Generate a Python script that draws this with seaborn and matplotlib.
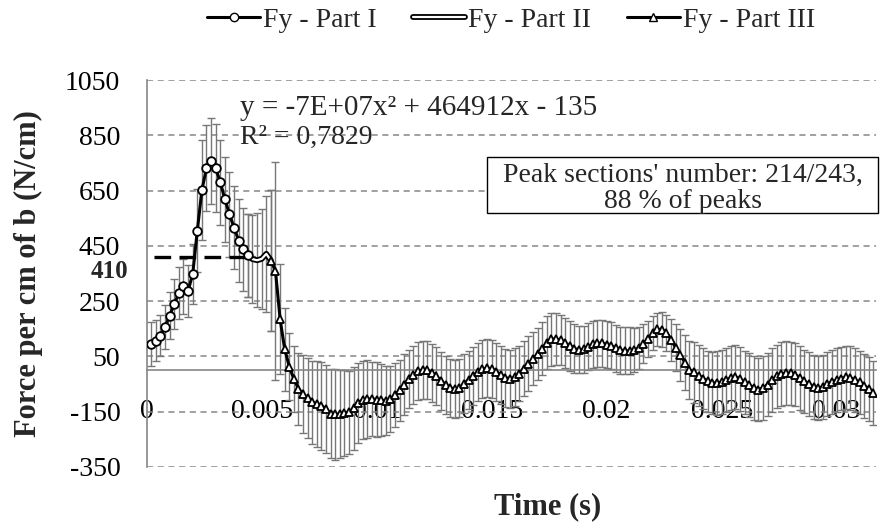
import numpy as np
import pandas as pd
import matplotlib
matplotlib.use("Agg")
import matplotlib.pyplot as plt
import seaborn as sns
from matplotlib.lines import Line2D
from matplotlib.patches import Rectangle

# ---------------- data ----------------
step = 0.0002

p1_start = 0.0002
p1_force = [96, 107, 125, 156, 197, 240, 279, 303, 287, 348,
            504, 652, 731, 757, 731, 680, 619, 564, 516, 469,
            438, 416]
p1_err = [80, 75, 75, 80, 85, 90, 95, 100, 95, 110,
          150, 180, 155, 157, 160, 153, 154, 154, 150, 150,
          150, 150]

p2_start = 0.0044
p2_force = [416, 402, 398, 403, 421, 397]
p2_err = [150, 160, 170, 180, 210, 255]

p3_start = 0.0054
p3_force = [397, 359, 185, 76, 13, -32, -67, -86, -101, -115,
            -122, -129, -140, -157, -159, -158, -155, -152, -138, -118,
            -107, -104, -104, -106, -108, -110, -104, -90, -72, -52,
            -33, -16, -4, 2, 0, -10, -22, -38, -52, -64,
            -68, -64, -48, -34, -20, -5, 4, 8, 5, -5,
            -16, -27, -31, -26, -12, 6, 24, 42, 58, 78,
            100, 112, 113, 109, 98, 87, 78, 74, 76, 85,
            94, 98, 97, 93, 88, 80, 73, 70, 70, 72,
            80, 96, 114, 134, 148, 147, 136, 110, 82, 56,
            28, 2, -8, -20, -30, -40, -46, -47, -42, -36,
            -28, -24, -32, -44, -54, -64, -70, -65, -52, -36,
            -22, -14, -10, -11, -16, -28, -40, -50, -60, -64,
            -60, -50, -42, -35, -30, -26, -28, -35, -44, -56,
            -68, -83]
p3_err = [255, 395, 200, 150, 120, 120, 130, 140, 145, 150,
          155, 160, 160, 160, 165, 160, 155, 150, 150, 145,
          140, 140, 135, 135, 130, 125, 120, 115, 110, 110,
          105, 105, 105, 105, 105, 105, 105, 105, 105, 105,
          105, 105, 105, 105, 105, 105, 105, 105, 105, 105,
          105, 105, 105, 105, 100, 100, 100, 95, 95, 95,
          95, 95, 95, 90, 90, 90, 88, 85, 85, 85,
          85, 85, 85, 85, 85, 85, 85, 85, 85, 80,
          75, 70, 65, 62, 60, 62, 65, 75, 85, 95,
          100, 105, 110, 110, 110, 110, 112, 115, 115, 115,
          115, 115, 115, 115, 115, 115, 115, 115, 115, 115,
          115, 115, 115, 115, 115, 115, 115, 115, 115, 115,
          115, 115, 115, 115, 115, 115, 115, 115, 115, 115,
          115, 115]

threshold = 410
threshold_x = [0.0003, 0.0047]

series_labels = ["Fy - Part I", "Fy - Part II", "Fy - Part III"]
x_ticks = [0, 0.005, 0.01, 0.015, 0.02, 0.025, 0.03]
x_tick_labels = ["0", "0.005", "0.01", "0.015", "0.02", "0.025", "0.03"]
y_ticks = [-350, -150, 50, 250, 450, 650, 850, 1050]
y_tick_labels = ["-350", "-150", "50", "250", "450", "650", "850", "1050"]

equation = "y = -7E+07x\u00b2 + 464912x - 135"
r2_text = "R\u00b2 = 0,7829"
box_text = "Peak sections' number: 214/243,\n88 % of peaks"


def frame(start, force, err, part):
    t = np.round(start + step * np.arange(len(force)), 5)
    return pd.DataFrame({"t": t, "F": force, "err": err, "part": part})


d1 = frame(p1_start, p1_force, p1_err, series_labels[0])
d2 = frame(p2_start, p2_force, p2_err, series_labels[1])
d3 = frame(p3_start, p3_force, p3_err, series_labels[2])

# ---------------- style ----------------
sns.set_theme(style="white")
plt.rcParams['font.family'] = ['Liberation Serif', 'DejaVu Serif']
GRAY = "#868686"
EB = "#777777"

fig = plt.figure(figsize=(8.82, 5.28), dpi=100)
L, R, T, B = 146.7, 876.0, 80.0, 467.0
ax = fig.add_axes([L / 882, 1 - B / 528, (R - L) / 882, (B - T) / 528])

ax.set_xlim(0, 0.03171)
ax.set_ylim(-350, 1050)

ax.set_yticks(y_ticks)
ax.set_yticklabels(y_tick_labels)
ax.set_xticks(x_ticks)
ax.set_xticklabels(x_tick_labels)
ax.yaxis.grid(True, linestyle=(0, (4, 3)), color=GRAY, lw=1.1)
ax.xaxis.grid(False)

# error bars
for d in (d1, d2, d3):
    ax.errorbar(d["t"], d["F"], yerr=d["err"], fmt="none", ecolor=EB,
                elinewidth=1.0, capsize=2.8, capthick=1.0, zorder=2)

# dashed threshold line
ax.plot(threshold_x, [threshold, threshold], color="black", lw=2.4,
        dashes=(5, 2.5), zorder=3)

# Part II double line
sns.lineplot(data=d2, x="t", y="F", ax=ax, color="black", lw=4.2,
             sort=False, estimator=None, zorder=4)
sns.lineplot(data=d2, x="t", y="F", ax=ax, color="white", lw=1.6,
             sort=False, estimator=None, zorder=4.1)
# Part I circles
sns.lineplot(data=d1, x="t", y="F", ax=ax, color="black", lw=2.2,
             marker="o", markersize=6.2, markerfacecolor="white",
             markeredgecolor="black", markeredgewidth=1.3,
             sort=False, estimator=None, zorder=5)
# Part III triangles
sns.lineplot(data=d3, x="t", y="F", ax=ax, color="black", lw=2.2,
             marker="^", markersize=6.0, markerfacecolor="white",
             markeredgecolor="black", markeredgewidth=1.3,
             sort=False, estimator=None, zorder=5)

for s in ("top", "right"):
    ax.spines[s].set_visible(False)
ax.spines["left"].set_color(GRAY)
ax.spines["left"].set_linewidth(1.2)
ax.spines["bottom"].set_position(("data", 0))
ax.spines["bottom"].set_color(GRAY)
ax.spines["bottom"].set_linewidth(1.2)

ax.tick_params(axis="x", direction="out", length=6, width=1.2, color=GRAY,
               pad=15, labelsize=20, labelcolor="black")
ax.tick_params(axis="y", direction="out", length=6, width=1.2, color=GRAY,
               pad=13, labelsize=20, labelcolor="black")
ax.set_axisbelow(True)

ax.set_xlabel("Time (s)", fontsize=22, fontweight="bold")
ax.set_ylabel("Force per cm of b (N/cm)", fontsize=22, fontweight="bold")
ax.xaxis.set_label_coords((548 - L) / (R - L), (B - 492) / (B - T))
ax.yaxis.set_label_coords((43 - L) / (R - L), 0.5)

# equation text
ax.text((240 - L) / (R - L), (B - 108) / (B - T), equation,
        transform=ax.transAxes, fontsize=21, va="center", ha="left")
ax.text((240 - L) / (R - L), (B - 137) / (B - T), r2_text,
        transform=ax.transAxes, fontsize=20, va="center", ha="left")

# box
bx0, bx1 = (487 - L) / (R - L), (878 - L) / (R - L)
by0, by1 = (B - 213) / (B - T), (B - 157) / (B - T)
ax.add_patch(Rectangle((bx0, by0), bx1 - bx0, by1 - by0, transform=ax.transAxes,
                       facecolor="white", edgecolor="black", lw=1.0,
                       clip_on=False, zorder=6))
ax.text((bx0 + bx1) / 2, (by0 + by1) / 2 - 0.008, box_text, transform=ax.transAxes,
        fontsize=20, ha="center", va="center", linespacing=1.05, zorder=7)

# 410 label
fig.text(128 / 882, 1 - 271 / 528, str(threshold), fontsize=18,
         fontweight="bold", ha="right", va="center")

# legend
h1 = Line2D([], [], color="black", lw=2.2, marker="o", markersize=6,
            markerfacecolor="white", markeredgecolor="black")
h2 = (Line2D([], [], color="black", lw=4.2), Line2D([], [], color="white", lw=1.6))
h3 = Line2D([], [], color="black", lw=2.2, marker="^", markersize=5.5,
            markerfacecolor="white", markeredgecolor="black")
fig.legend([h1, h2, h3], series_labels, loc="center",
           bbox_to_anchor=(511 / 882, 1 - 20 / 528), ncol=3,
           frameon=False, fontsize=20, handlelength=1.9,
           handletextpad=0.1, columnspacing=1.3)

fig.savefig("out.png", dpi=100)
